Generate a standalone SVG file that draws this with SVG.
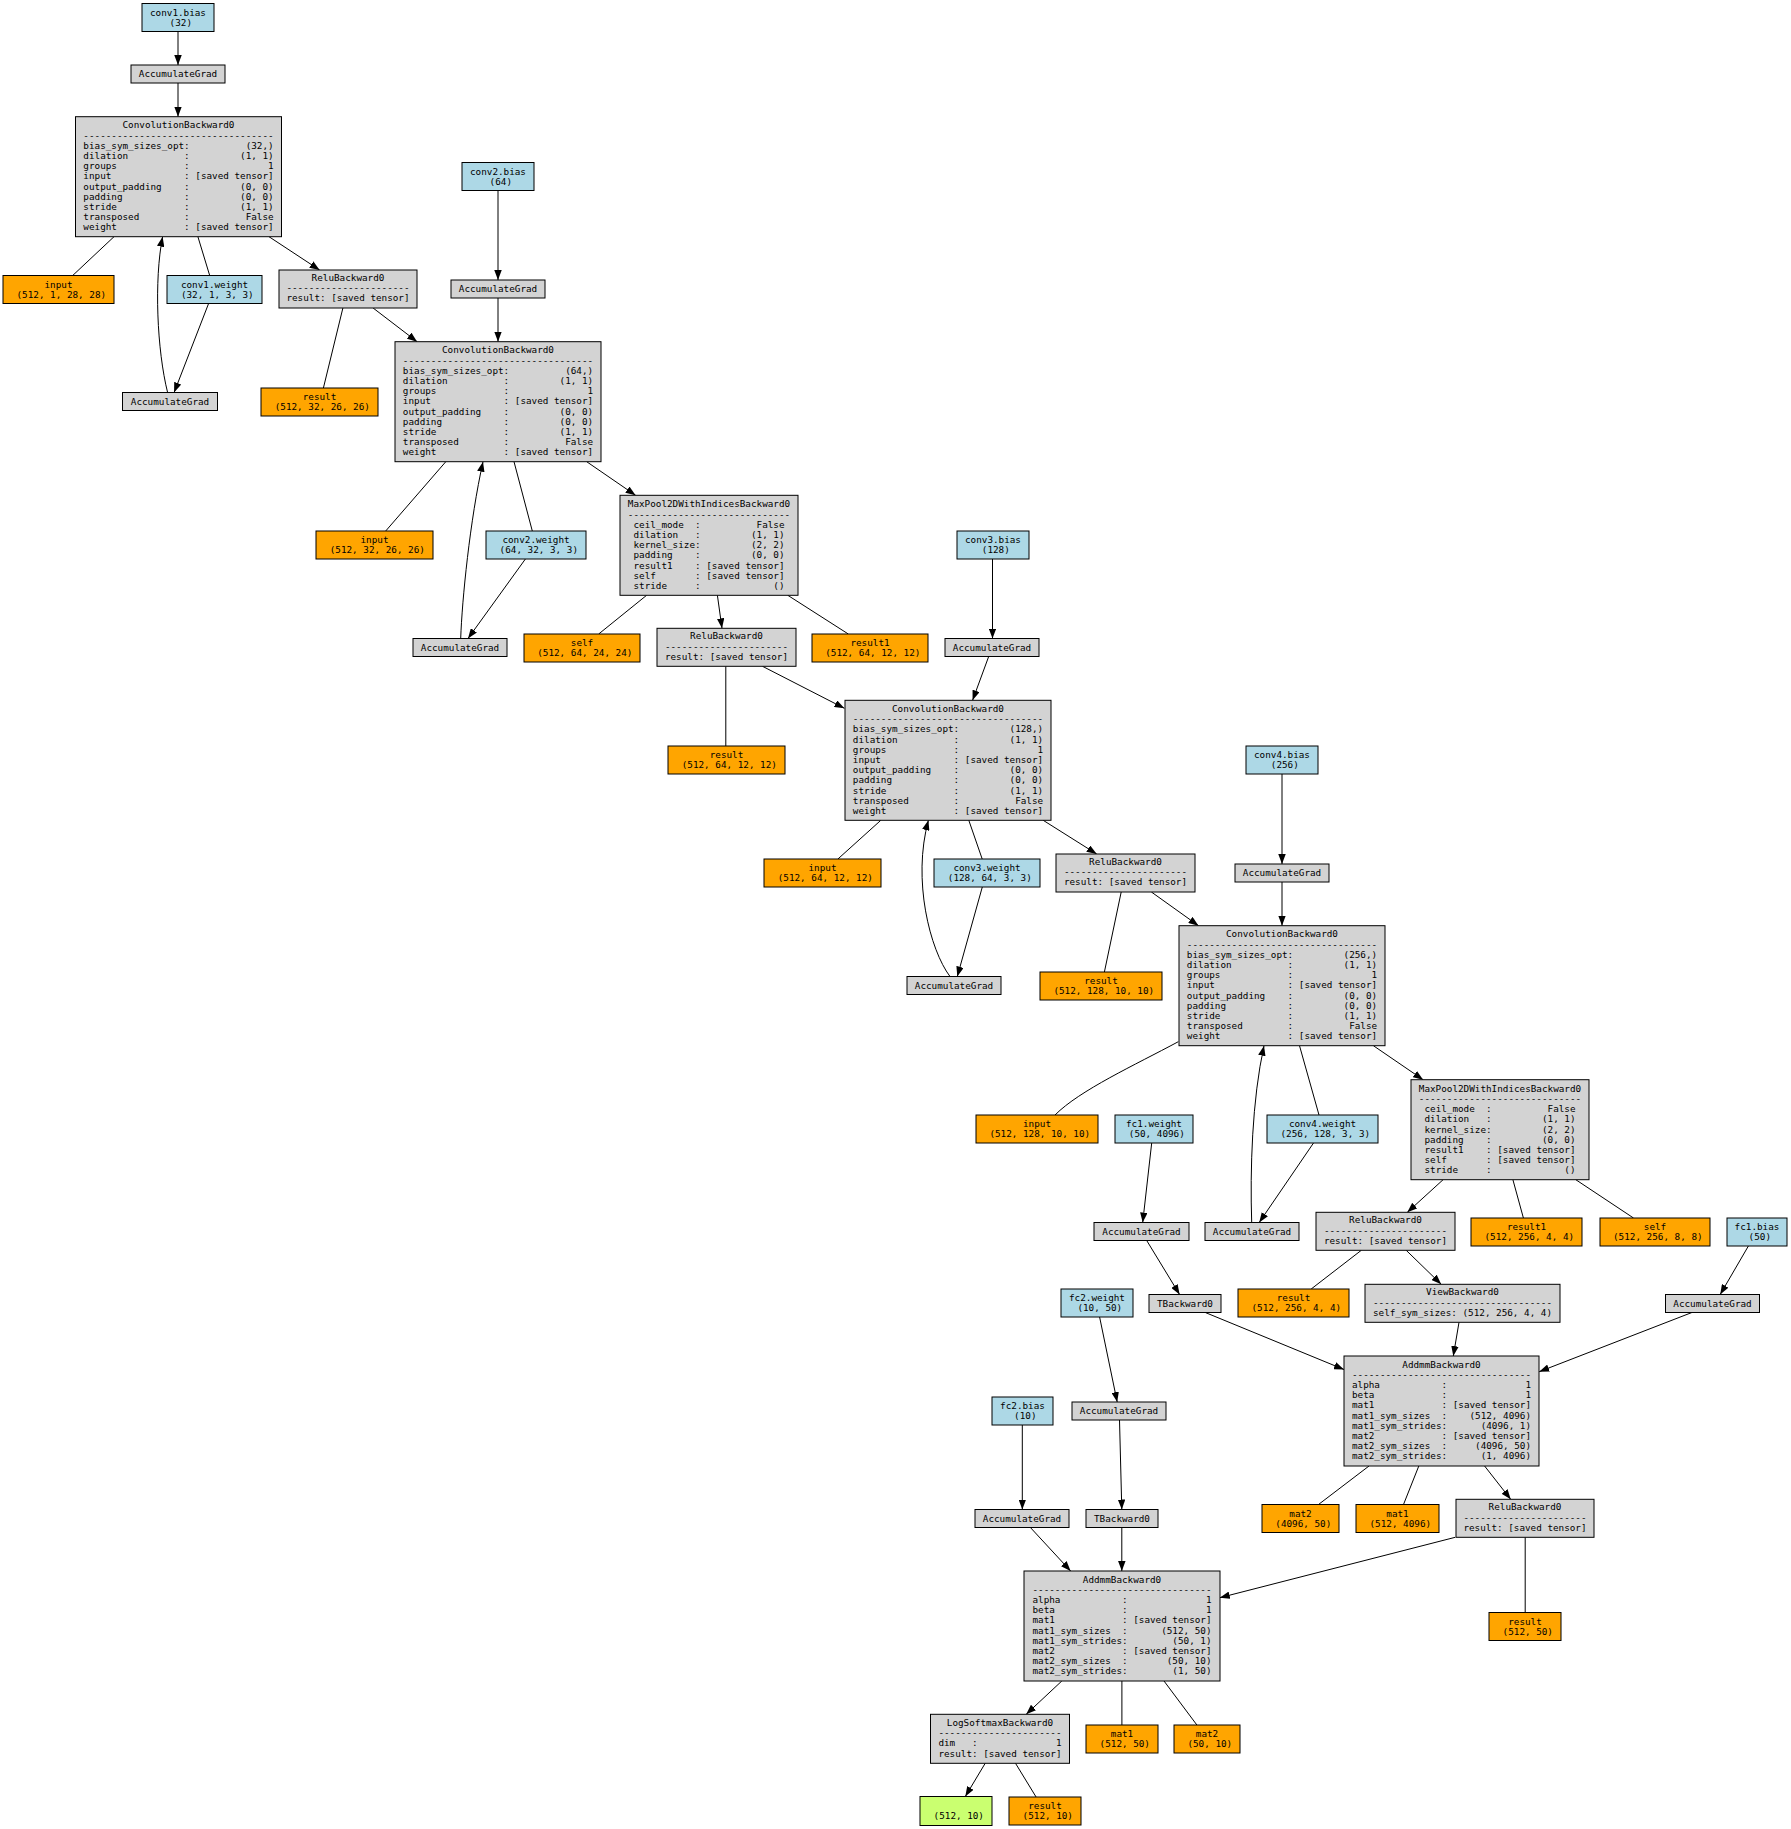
<svg xmlns="http://www.w3.org/2000/svg" width="1791" height="1829" viewBox="0 0 1791 1829" xml:space="preserve">
<style>
.t{font-family:"DejaVu Sans Mono","Liberation Mono",monospace;font-size:9.3px;text-anchor:middle;white-space:pre;fill:#000}
.p{fill:#add8e6;stroke:#000;stroke-width:1}
.o{fill:#ffa500;stroke:#000;stroke-width:1}
.f{fill:#d3d3d3;stroke:#000;stroke-width:1}
.g{fill:#caff70;stroke:#000;stroke-width:1}
.e path{fill:none;stroke:#000;stroke-width:1}
.e path.a{marker-end:url(#ah)}
</style>
<defs>
<marker id="ah" viewBox="0 0 10 7.5" refX="10" refY="3.75" markerWidth="10" markerHeight="7.5" markerUnits="userSpaceOnUse" orient="auto"><path d="M0,0 L10,3.75 L0,7.5 z" fill="#000"/></marker>
</defs>
<rect width="1791" height="1829" fill="#fff"/>
<g id="edges" class="e">
<path class="a" d="M178,31.5 L178,65"/>
<path class="a" d="M178,83 L178,116.7"/>
<path d="M114,236.7 L72.7,275.5"/>
<path d="M197.9,236.7 L209.7,275.5"/>
<path class="a" d="M269,236.7 L319.6,270"/>
<path class="a" d="M208.6,303.5 L174.1,392.5"/>
<path class="a" d="M167.6,392.5 C157,350 154,280 162.6,236.7"/>
<path d="M342.9,308 L323.4,388"/>
<path class="a" d="M373.1,308 L417.1,341.7"/>
<path class="a" d="M498,190.5 L498,280"/>
<path class="a" d="M498,298 L498,341.7"/>
<path d="M445.8,461.7 L385.7,531"/>
<path d="M514,461.7 L532.3,531"/>
<path class="a" d="M586.7,461.7 L635.6,495.3"/>
<path class="a" d="M525.4,559 L468,638.5"/>
<path class="a" d="M460.7,638.5 C462,600 470,520 483,461.7"/>
<path d="M646.6,595.3 L598.7,634"/>
<path class="a" d="M717.4,595.3 L722,628.3"/>
<path d="M787.8,595.3 L848.3,634"/>
<path class="a" d="M992.5,559 L992.5,638.5"/>
<path class="a" d="M988.7,656.5 L972.6,700.3"/>
<path d="M725.8,666.3 L725.8,746"/>
<path class="a" d="M762.5,666.3 L844.4,708.3"/>
<path d="M880.8,820.3 L837.9,859"/>
<path d="M968.8,820.3 L982.2,859"/>
<path class="a" d="M1043.2,820.3 L1096.7,854"/>
<path class="a" d="M982.3,887 L957.3,976.5"/>
<path class="a" d="M950,976.5 C930,950 912,880 928.4,820.3"/>
<path d="M1121.2,892 L1104.4,972"/>
<path class="a" d="M1151.4,892 L1198.5,925.7"/>
<path class="a" d="M1282,774 L1282,864"/>
<path class="a" d="M1282,882 L1282,925.7"/>
<path d="M1178.3,1041.7 C1135,1065 1080,1090 1055,1115"/>
<path d="M1299.5,1045.7 L1319,1115"/>
<path class="a" d="M1373.4,1045.7 L1423.1,1079.7"/>
<path class="a" d="M1313.5,1143 L1259.2,1222.5"/>
<path class="a" d="M1251.7,1222.5 C1250,1170 1252,1100 1264,1045.7"/>
<path class="a" d="M1443.1,1179.7 L1407.3,1212.3"/>
<path d="M1512.9,1179.7 L1523.4,1218"/>
<path d="M1575.8,1179.7 L1633.5,1218"/>
<path d="M1361.3,1250.3 L1311.2,1289"/>
<path class="a" d="M1406.2,1250.3 L1441.2,1284.3"/>
<path class="a" d="M1459,1322.3 L1453.3,1356"/>
<path class="a" d="M1748.4,1246 L1720.2,1294.5"/>
<path class="a" d="M1691.9,1312.5 L1539.2,1371.7"/>
<path class="a" d="M1205.3,1312.5 L1344,1369.5"/>
<path class="a" d="M1151.7,1143 L1142.7,1222.5"/>
<path class="a" d="M1146.7,1240.5 L1179.6,1294.5"/>
<path class="a" d="M1099.6,1317 L1117.2,1402"/>
<path class="a" d="M1119.5,1420 L1121.8,1509.5"/>
<path class="a" d="M1022.3,1425 L1022.3,1509.5"/>
<path class="a" d="M1030.4,1527.5 L1070.6,1571"/>
<path class="a" d="M1121.8,1527.5 L1121.8,1571"/>
<path d="M1369,1466 L1318.5,1504.5"/>
<path d="M1418.8,1466 L1403.5,1504.5"/>
<path class="a" d="M1484.6,1466 L1510.7,1499.3"/>
<path class="a" d="M1455.2,1537.3 L1219.8,1597.7"/>
<path d="M1525.2,1537.3 L1525.2,1612.5"/>
<path class="a" d="M1061.8,1681 L1026.2,1714.3"/>
<path d="M1121.9,1681 L1121.9,1725"/>
<path d="M1164,1681 L1196.9,1725"/>
<path class="a" d="M985.2,1763.3 L965.3,1796.5"/>
<path d="M1015.5,1763.3 L1036.1,1797"/>
</g>
<g id="conv1_bias"><rect class="p" x="142" y="3.5" width="72" height="28"/><text class="t" x="178" y="15.5">conv1.bias</text><text class="t" x="178" y="25.5"> (32)</text></g>
<g id="conv1_weight"><rect class="p" x="167" y="275.5" width="95" height="28"/><text class="t" x="214.5" y="287.5">conv1.weight</text><text class="t" x="214.5" y="297.5"> (32, 1, 3, 3)</text></g>
<g id="conv2_bias"><rect class="p" x="462" y="162.5" width="72" height="28"/><text class="t" x="498" y="174.5">conv2.bias</text><text class="t" x="498" y="184.5"> (64)</text></g>
<g id="conv2_weight"><rect class="p" x="486" y="531" width="100" height="28"/><text class="t" x="536" y="543">conv2.weight</text><text class="t" x="536" y="553"> (64, 32, 3, 3)</text></g>
<g id="conv3_bias"><rect class="p" x="957" y="531" width="72" height="28"/><text class="t" x="993" y="543">conv3.bias</text><text class="t" x="993" y="553"> (128)</text></g>
<g id="conv3_weight"><rect class="p" x="934" y="859" width="106" height="28"/><text class="t" x="987" y="871">conv3.weight</text><text class="t" x="987" y="881"> (128, 64, 3, 3)</text></g>
<g id="conv4_bias"><rect class="p" x="1246" y="746" width="72" height="28"/><text class="t" x="1282" y="758">conv4.bias</text><text class="t" x="1282" y="768"> (256)</text></g>
<g id="conv4_weight"><rect class="p" x="1267" y="1115" width="111" height="28"/><text class="t" x="1322.5" y="1127">conv4.weight</text><text class="t" x="1322.5" y="1137"> (256, 128, 3, 3)</text></g>
<g id="fc1_weight"><rect class="p" x="1115" y="1115" width="78" height="28"/><text class="t" x="1154" y="1127">fc1.weight</text><text class="t" x="1154" y="1137"> (50, 4096)</text></g>
<g id="fc1_bias"><rect class="p" x="1727" y="1218" width="60" height="28"/><text class="t" x="1757" y="1230">fc1.bias</text><text class="t" x="1757" y="1240"> (50)</text></g>
<g id="fc2_weight"><rect class="p" x="1061" y="1289" width="72" height="28"/><text class="t" x="1097" y="1301">fc2.weight</text><text class="t" x="1097" y="1311"> (10, 50)</text></g>
<g id="fc2_bias"><rect class="p" x="992" y="1397" width="61" height="28"/><text class="t" x="1022.5" y="1409">fc2.bias</text><text class="t" x="1022.5" y="1419"> (10)</text></g>
<g id="s_input1"><rect class="o" x="3" y="275.5" width="111" height="28"/><text class="t" x="58.5" y="287.5">input</text><text class="t" x="58.5" y="297.5"> (512, 1, 28, 28)</text></g>
<g id="s_result1"><rect class="o" x="261" y="388" width="117" height="28"/><text class="t" x="319.5" y="400">result</text><text class="t" x="319.5" y="410"> (512, 32, 26, 26)</text></g>
<g id="s_input2"><rect class="o" x="316" y="531" width="117" height="28"/><text class="t" x="374.5" y="543">input</text><text class="t" x="374.5" y="553"> (512, 32, 26, 26)</text></g>
<g id="s_self1"><rect class="o" x="524" y="634" width="116" height="28"/><text class="t" x="582" y="646">self</text><text class="t" x="582" y="656"> (512, 64, 24, 24)</text></g>
<g id="s_result1b"><rect class="o" x="812" y="634" width="116" height="28"/><text class="t" x="870" y="646">result1</text><text class="t" x="870" y="656"> (512, 64, 12, 12)</text></g>
<g id="s_result2"><rect class="o" x="668" y="746" width="117" height="28"/><text class="t" x="726.5" y="758">result</text><text class="t" x="726.5" y="768"> (512, 64, 12, 12)</text></g>
<g id="s_input3"><rect class="o" x="764" y="859" width="117" height="28"/><text class="t" x="822.5" y="871">input</text><text class="t" x="822.5" y="881"> (512, 64, 12, 12)</text></g>
<g id="s_result3"><rect class="o" x="1040" y="972" width="122" height="28"/><text class="t" x="1101" y="984">result</text><text class="t" x="1101" y="994"> (512, 128, 10, 10)</text></g>
<g id="s_input4"><rect class="o" x="976" y="1115" width="122" height="28"/><text class="t" x="1037" y="1127">input</text><text class="t" x="1037" y="1137"> (512, 128, 10, 10)</text></g>
<g id="s_result1c"><rect class="o" x="1471" y="1218" width="111" height="28"/><text class="t" x="1526.5" y="1230">result1</text><text class="t" x="1526.5" y="1240"> (512, 256, 4, 4)</text></g>
<g id="s_self2"><rect class="o" x="1600" y="1218" width="110" height="28"/><text class="t" x="1655" y="1230">self</text><text class="t" x="1655" y="1240"> (512, 256, 8, 8)</text></g>
<g id="s_result4"><rect class="o" x="1238" y="1289" width="111" height="28"/><text class="t" x="1293.5" y="1301">result</text><text class="t" x="1293.5" y="1311"> (512, 256, 4, 4)</text></g>
<g id="s_mat2a"><rect class="o" x="1262" y="1504.5" width="77" height="28"/><text class="t" x="1300.5" y="1516.5">mat2</text><text class="t" x="1300.5" y="1526.5"> (4096, 50)</text></g>
<g id="s_mat1a"><rect class="o" x="1356" y="1504.5" width="83" height="28"/><text class="t" x="1397.5" y="1516.5">mat1</text><text class="t" x="1397.5" y="1526.5"> (512, 4096)</text></g>
<g id="s_result5"><rect class="o" x="1489" y="1612.5" width="72" height="28"/><text class="t" x="1525" y="1624.5">result</text><text class="t" x="1525" y="1634.5"> (512, 50)</text></g>
<g id="s_mat1b"><rect class="o" x="1086" y="1725" width="72" height="28"/><text class="t" x="1122" y="1737">mat1</text><text class="t" x="1122" y="1747"> (512, 50)</text></g>
<g id="s_mat2b"><rect class="o" x="1174" y="1725" width="66" height="28"/><text class="t" x="1207" y="1737">mat2</text><text class="t" x="1207" y="1747"> (50, 10)</text></g>
<g id="s_result6"><rect class="o" x="1009" y="1797" width="72" height="28"/><text class="t" x="1045" y="1809">result</text><text class="t" x="1045" y="1819"> (512, 10)</text></g>
<g id="output"><rect class="g" x="920" y="1796.5" width="72" height="29"/><text class="t" x="956" y="1819"> (512, 10)</text></g>
<g id="acc1"><rect class="f" x="131" y="65" width="94" height="18"/><text class="t" x="178" y="77">AccumulateGrad</text></g>
<g id="accw1"><rect class="f" x="122.5" y="392.5" width="95" height="18"/><text class="t" x="170" y="404.5">AccumulateGrad</text></g>
<g id="acc2"><rect class="f" x="451" y="280" width="94" height="18"/><text class="t" x="498" y="292">AccumulateGrad</text></g>
<g id="accw2"><rect class="f" x="413" y="638.5" width="94" height="18"/><text class="t" x="460" y="650.5">AccumulateGrad</text></g>
<g id="acc3"><rect class="f" x="945" y="638.5" width="94" height="18"/><text class="t" x="992" y="650.5">AccumulateGrad</text></g>
<g id="accw3"><rect class="f" x="907" y="976.5" width="94" height="18"/><text class="t" x="954" y="988.5">AccumulateGrad</text></g>
<g id="acc4"><rect class="f" x="1235" y="864" width="94" height="18"/><text class="t" x="1282" y="876">AccumulateGrad</text></g>
<g id="accw4"><rect class="f" x="1205" y="1222.5" width="94" height="18"/><text class="t" x="1252" y="1234.5">AccumulateGrad</text></g>
<g id="accf1w"><rect class="f" x="1094" y="1222.5" width="95" height="18"/><text class="t" x="1141.5" y="1234.5">AccumulateGrad</text></g>
<g id="accf1b"><rect class="f" x="1665.5" y="1294.5" width="94" height="18"/><text class="t" x="1712.5" y="1306.5">AccumulateGrad</text></g>
<g id="accf2w"><rect class="f" x="1072" y="1402" width="94" height="18"/><text class="t" x="1119" y="1414">AccumulateGrad</text></g>
<g id="accf2b"><rect class="f" x="975" y="1509.5" width="94" height="18"/><text class="t" x="1022" y="1521.5">AccumulateGrad</text></g>
<g id="tb1"><rect class="f" x="1149" y="1294.5" width="72" height="18"/><text class="t" x="1185" y="1306.5">TBackward0</text></g>
<g id="tb2"><rect class="f" x="1086" y="1509.5" width="72" height="18"/><text class="t" x="1122" y="1521.5">TBackward0</text></g>
<g id="conv_1"><rect class="f" x="75.5" y="116.7" width="206" height="120"/>
<text class="t" x="178.5" y="128.3">ConvolutionBackward0</text>
<text class="t" x="178.5" y="138.5">----------------------------------</text>
<text class="t" x="178.5" y="148.7">bias_sym_sizes_opt:          (32,)</text>
<text class="t" x="178.5" y="158.9">dilation          :         (1, 1)</text>
<text class="t" x="178.5" y="169.1">groups            :              1</text>
<text class="t" x="178.5" y="179.3">input             : [saved tensor]</text>
<text class="t" x="178.5" y="189.5">output_padding    :         (0, 0)</text>
<text class="t" x="178.5" y="199.7">padding           :         (0, 0)</text>
<text class="t" x="178.5" y="209.9">stride            :         (1, 1)</text>
<text class="t" x="178.5" y="220.1">transposed        :          False</text>
<text class="t" x="178.5" y="230.3">weight            : [saved tensor]</text></g>
<g id="conv_2"><rect class="f" x="395" y="341.7" width="206" height="120"/>
<text class="t" x="498" y="353.3">ConvolutionBackward0</text>
<text class="t" x="498" y="363.5">----------------------------------</text>
<text class="t" x="498" y="373.7">bias_sym_sizes_opt:          (64,)</text>
<text class="t" x="498" y="383.9">dilation          :         (1, 1)</text>
<text class="t" x="498" y="394.1">groups            :              1</text>
<text class="t" x="498" y="404.3">input             : [saved tensor]</text>
<text class="t" x="498" y="414.5">output_padding    :         (0, 0)</text>
<text class="t" x="498" y="424.7">padding           :         (0, 0)</text>
<text class="t" x="498" y="434.9">stride            :         (1, 1)</text>
<text class="t" x="498" y="445.1">transposed        :          False</text>
<text class="t" x="498" y="455.3">weight            : [saved tensor]</text></g>
<g id="conv_3"><rect class="f" x="845" y="700.3" width="206" height="120"/>
<text class="t" x="948" y="711.9">ConvolutionBackward0</text>
<text class="t" x="948" y="722.1">----------------------------------</text>
<text class="t" x="948" y="732.3">bias_sym_sizes_opt:         (128,)</text>
<text class="t" x="948" y="742.5">dilation          :         (1, 1)</text>
<text class="t" x="948" y="752.7">groups            :              1</text>
<text class="t" x="948" y="762.9">input             : [saved tensor]</text>
<text class="t" x="948" y="773.1">output_padding    :         (0, 0)</text>
<text class="t" x="948" y="783.3">padding           :         (0, 0)</text>
<text class="t" x="948" y="793.5">stride            :         (1, 1)</text>
<text class="t" x="948" y="803.7">transposed        :          False</text>
<text class="t" x="948" y="813.9">weight            : [saved tensor]</text></g>
<g id="conv_4"><rect class="f" x="1179" y="925.7" width="206" height="120"/>
<text class="t" x="1282" y="937.3">ConvolutionBackward0</text>
<text class="t" x="1282" y="947.5">----------------------------------</text>
<text class="t" x="1282" y="957.7">bias_sym_sizes_opt:         (256,)</text>
<text class="t" x="1282" y="967.9">dilation          :         (1, 1)</text>
<text class="t" x="1282" y="978.1">groups            :              1</text>
<text class="t" x="1282" y="988.3">input             : [saved tensor]</text>
<text class="t" x="1282" y="998.5">output_padding    :         (0, 0)</text>
<text class="t" x="1282" y="1008.7">padding           :         (0, 0)</text>
<text class="t" x="1282" y="1018.9">stride            :         (1, 1)</text>
<text class="t" x="1282" y="1029.1">transposed        :          False</text>
<text class="t" x="1282" y="1039.3">weight            : [saved tensor]</text></g>
<g id="relu_1"><rect class="f" x="279" y="270" width="138" height="38"/>
<text class="t" x="348" y="281">ReluBackward0</text>
<text class="t" x="348" y="291.2">----------------------</text>
<text class="t" x="348" y="301.4">result: [saved tensor]</text></g>
<g id="relu_2"><rect class="f" x="657" y="628.3" width="139" height="38"/>
<text class="t" x="726.5" y="639.3">ReluBackward0</text>
<text class="t" x="726.5" y="649.5">----------------------</text>
<text class="t" x="726.5" y="659.7">result: [saved tensor]</text></g>
<g id="relu_3"><rect class="f" x="1056" y="854" width="139" height="38"/>
<text class="t" x="1125.5" y="865">ReluBackward0</text>
<text class="t" x="1125.5" y="875.2">----------------------</text>
<text class="t" x="1125.5" y="885.4">result: [saved tensor]</text></g>
<g id="relu_4"><rect class="f" x="1316" y="1212.3" width="139" height="38"/>
<text class="t" x="1385.5" y="1223.3">ReluBackward0</text>
<text class="t" x="1385.5" y="1233.5">----------------------</text>
<text class="t" x="1385.5" y="1243.7">result: [saved tensor]</text></g>
<g id="relu_5"><rect class="f" x="1456" y="1499.3" width="138" height="38"/>
<text class="t" x="1525" y="1510.3">ReluBackward0</text>
<text class="t" x="1525" y="1520.5">----------------------</text>
<text class="t" x="1525" y="1530.7">result: [saved tensor]</text></g>
<g id="maxpool_1"><rect class="f" x="620" y="495.3" width="178" height="100"/>
<text class="t" x="709" y="507.3">MaxPool2DWithIndicesBackward0</text>
<text class="t" x="709" y="517.5">-----------------------------</text>
<text class="t" x="709" y="527.7">ceil_mode  :          False</text>
<text class="t" x="709" y="537.9">dilation   :         (1, 1)</text>
<text class="t" x="709" y="548.1">kernel_size:         (2, 2)</text>
<text class="t" x="709" y="558.3">padding    :         (0, 0)</text>
<text class="t" x="709" y="568.5">result1    : [saved tensor]</text>
<text class="t" x="709" y="578.7">self       : [saved tensor]</text>
<text class="t" x="709" y="588.9">stride     :             ()</text></g>
<g id="maxpool_2"><rect class="f" x="1411" y="1079.7" width="178" height="100"/>
<text class="t" x="1500" y="1091.7">MaxPool2DWithIndicesBackward0</text>
<text class="t" x="1500" y="1101.9">-----------------------------</text>
<text class="t" x="1500" y="1112.1">ceil_mode  :          False</text>
<text class="t" x="1500" y="1122.3">dilation   :         (1, 1)</text>
<text class="t" x="1500" y="1132.5">kernel_size:         (2, 2)</text>
<text class="t" x="1500" y="1142.7">padding    :         (0, 0)</text>
<text class="t" x="1500" y="1152.9">result1    : [saved tensor]</text>
<text class="t" x="1500" y="1163.1">self       : [saved tensor]</text>
<text class="t" x="1500" y="1173.3">stride     :             ()</text></g>
<g id="view"><rect class="f" x="1365" y="1284.3" width="195" height="38"/>
<text class="t" x="1462.5" y="1295.3">ViewBackward0</text>
<text class="t" x="1462.5" y="1305.5">--------------------------------</text>
<text class="t" x="1462.5" y="1315.7">self_sym_sizes: (512, 256, 4, 4)</text></g>
<g id="addmm_1"><rect class="f" x="1344" y="1356" width="195" height="110"/>
<text class="t" x="1441.5" y="1367.6">AddmmBackward0</text>
<text class="t" x="1441.5" y="1377.8">--------------------------------</text>
<text class="t" x="1441.5" y="1388">alpha           :              1</text>
<text class="t" x="1441.5" y="1398.2">beta            :              1</text>
<text class="t" x="1441.5" y="1408.4">mat1            : [saved tensor]</text>
<text class="t" x="1441.5" y="1418.6">mat1_sym_sizes  :    (512, 4096)</text>
<text class="t" x="1441.5" y="1428.8">mat1_sym_strides:      (4096, 1)</text>
<text class="t" x="1441.5" y="1439">mat2            : [saved tensor]</text>
<text class="t" x="1441.5" y="1449.2">mat2_sym_sizes  :     (4096, 50)</text>
<text class="t" x="1441.5" y="1459.4">mat2_sym_strides:      (1, 4096)</text></g>
<g id="addmm_2"><rect class="f" x="1024" y="1571" width="196" height="110"/>
<text class="t" x="1122" y="1582.6">AddmmBackward0</text>
<text class="t" x="1122" y="1592.8">--------------------------------</text>
<text class="t" x="1122" y="1603">alpha           :              1</text>
<text class="t" x="1122" y="1613.2">beta            :              1</text>
<text class="t" x="1122" y="1623.4">mat1            : [saved tensor]</text>
<text class="t" x="1122" y="1633.6">mat1_sym_sizes  :      (512, 50)</text>
<text class="t" x="1122" y="1643.8">mat1_sym_strides:        (50, 1)</text>
<text class="t" x="1122" y="1654">mat2            : [saved tensor]</text>
<text class="t" x="1122" y="1664.2">mat2_sym_sizes  :       (50, 10)</text>
<text class="t" x="1122" y="1674.4">mat2_sym_strides:        (1, 50)</text></g>
<g id="logsoftmax"><rect class="f" x="930.5" y="1714.3" width="139" height="49"/>
<text class="t" x="1000" y="1725.6">LogSoftmaxBackward0</text>
<text class="t" x="1000" y="1735.9">----------------------</text>
<text class="t" x="1000" y="1746.2">dim   :              1</text>
<text class="t" x="1000" y="1756.5">result: [saved tensor]</text></g>
</svg>
